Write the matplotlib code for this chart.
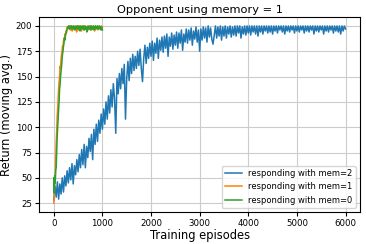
import numpy as np
import matplotlib.pyplot as plt

# episodes sampled every 25 for mem=2, every 10 for mem=1 / mem=0
ep_mem2 = np.arange(0, 6001, 25)
ret_mem2 = [
    28, 42, 31, 46, 29, 44, 34, 50, 36, 52,
    42, 57, 45, 60, 48, 64, 44, 62, 53, 68,
    56, 73, 60, 78, 63, 83, 60, 81, 70, 89,
    76, 93, 68, 98, 83, 103, 86, 107, 94, 113,
    98, 118, 103, 125, 108, 131, 114, 137, 120, 143,
    128, 94, 148, 133, 153, 138, 158, 143, 162, 108,
    148, 165, 146, 168, 153, 172, 156, 170, 158, 175,
    161, 177, 158, 145, 168, 181, 163, 179, 168, 183,
    170, 185, 166, 183, 173, 188, 168, 186, 176, 189,
    174, 190, 178, 192, 170, 189, 180, 193, 177, 191,
    181, 194, 178, 193, 183, 196, 176, 192, 184, 197,
    183, 196, 186, 198, 181, 195, 187, 199, 184, 196,
    175, 197, 186, 199, 188, 198, 184, 200, 189, 198,
    187, 182, 191, 200, 188, 199, 190, 200, 186, 199,
    190, 200, 188, 199, 192, 200, 189, 199, 191, 200,
    190, 200, 193, 200, 188, 199, 192, 200, 191, 200,
    193, 200, 191, 200, 194, 200, 192, 200, 190, 200,
    194, 200, 192, 200, 195, 200, 193, 200, 194, 200,
    192, 200, 195, 200, 193, 200, 196, 200, 194, 200,
    192, 200, 195, 200, 194, 200, 196, 200, 193, 200,
    195, 200, 194, 200, 196, 200, 193, 200, 195, 200,
    194, 200, 196, 200, 192, 200, 195, 200, 194, 200,
    196, 200, 192, 200, 195, 200, 194, 200, 196, 200,
    193, 200, 195, 200, 194, 200, 192, 200, 195, 200,
    197,
]

ep_short = np.arange(0, 1001, 10)
ret_mem1 = [
    25, 30, 48, 45, 70, 85, 95, 110, 118, 128,
    138, 145, 150, 160, 158, 168, 172, 175, 180, 178,
    185, 188, 186, 192, 190, 195, 193, 197, 199, 198,
    200, 197, 199, 200, 196, 199, 200, 198, 195, 199,
    200, 198, 196, 199, 200, 197, 199, 194, 198, 200,
    199, 196, 200, 198, 197, 200, 199, 195, 198, 200,
    197, 199, 200, 196, 198, 200, 197, 199, 195, 198,
    200, 198, 196, 199, 200, 197, 198, 200, 196, 199,
    198, 200, 197, 199, 195, 198, 200, 197, 199, 198,
    200, 196, 199, 198, 200, 197, 199, 198, 200, 197,
    199,
]
ret_mem0 = [
    50, 35, 52, 45, 58, 60, 75, 90, 100, 108,
    118, 125, 138, 142, 150, 155, 160, 166, 172, 175,
    180, 183, 188, 186, 191, 193, 194, 196, 198, 199,
    198, 200, 199, 197, 200, 198, 199, 200, 197, 199,
    198, 200, 197, 199, 196, 199, 200, 198, 197, 200,
    199, 197, 200, 198, 195, 199, 200, 197, 199, 198,
    200, 198, 196, 199, 200, 197, 199, 198, 194, 199,
    198, 200, 197, 199, 198, 200, 196, 199, 200, 197,
    199, 198, 200, 196, 199, 197, 200, 198, 199, 197,
    200, 198, 199, 197, 200, 198, 199, 196, 199, 198,
    196,
]

fig = plt.figure(figsize=(3.66, 2.44), dpi=100)
ax = fig.add_axes([0.107, 0.131, 0.877, 0.799])

ax.plot(ep_mem2, ret_mem2, lw=1.1, label='responding with mem=2')
ax.plot(ep_short, ret_mem1, lw=1.1, label='responding with mem=1')
ax.plot(ep_short, ret_mem0, lw=1.1, label='responding with mem=0')

ax.set_title('Opponent using memory = 1', fontsize=8.2, pad=3)
ax.set_xlabel('Training episodes', fontsize=8.3, labelpad=1)
ax.set_ylabel('Return (moving avg.)', fontsize=8.3, labelpad=2)
ax.tick_params(labelsize=6.2, length=3, pad=2)
ax.set_yticks([25, 50, 75, 100, 125, 150, 175, 200])
ax.grid(True, color='#cccccc', lw=0.8)
ax.legend(loc='lower right', fontsize=6)

fig.savefig('out.png', dpi=100)
